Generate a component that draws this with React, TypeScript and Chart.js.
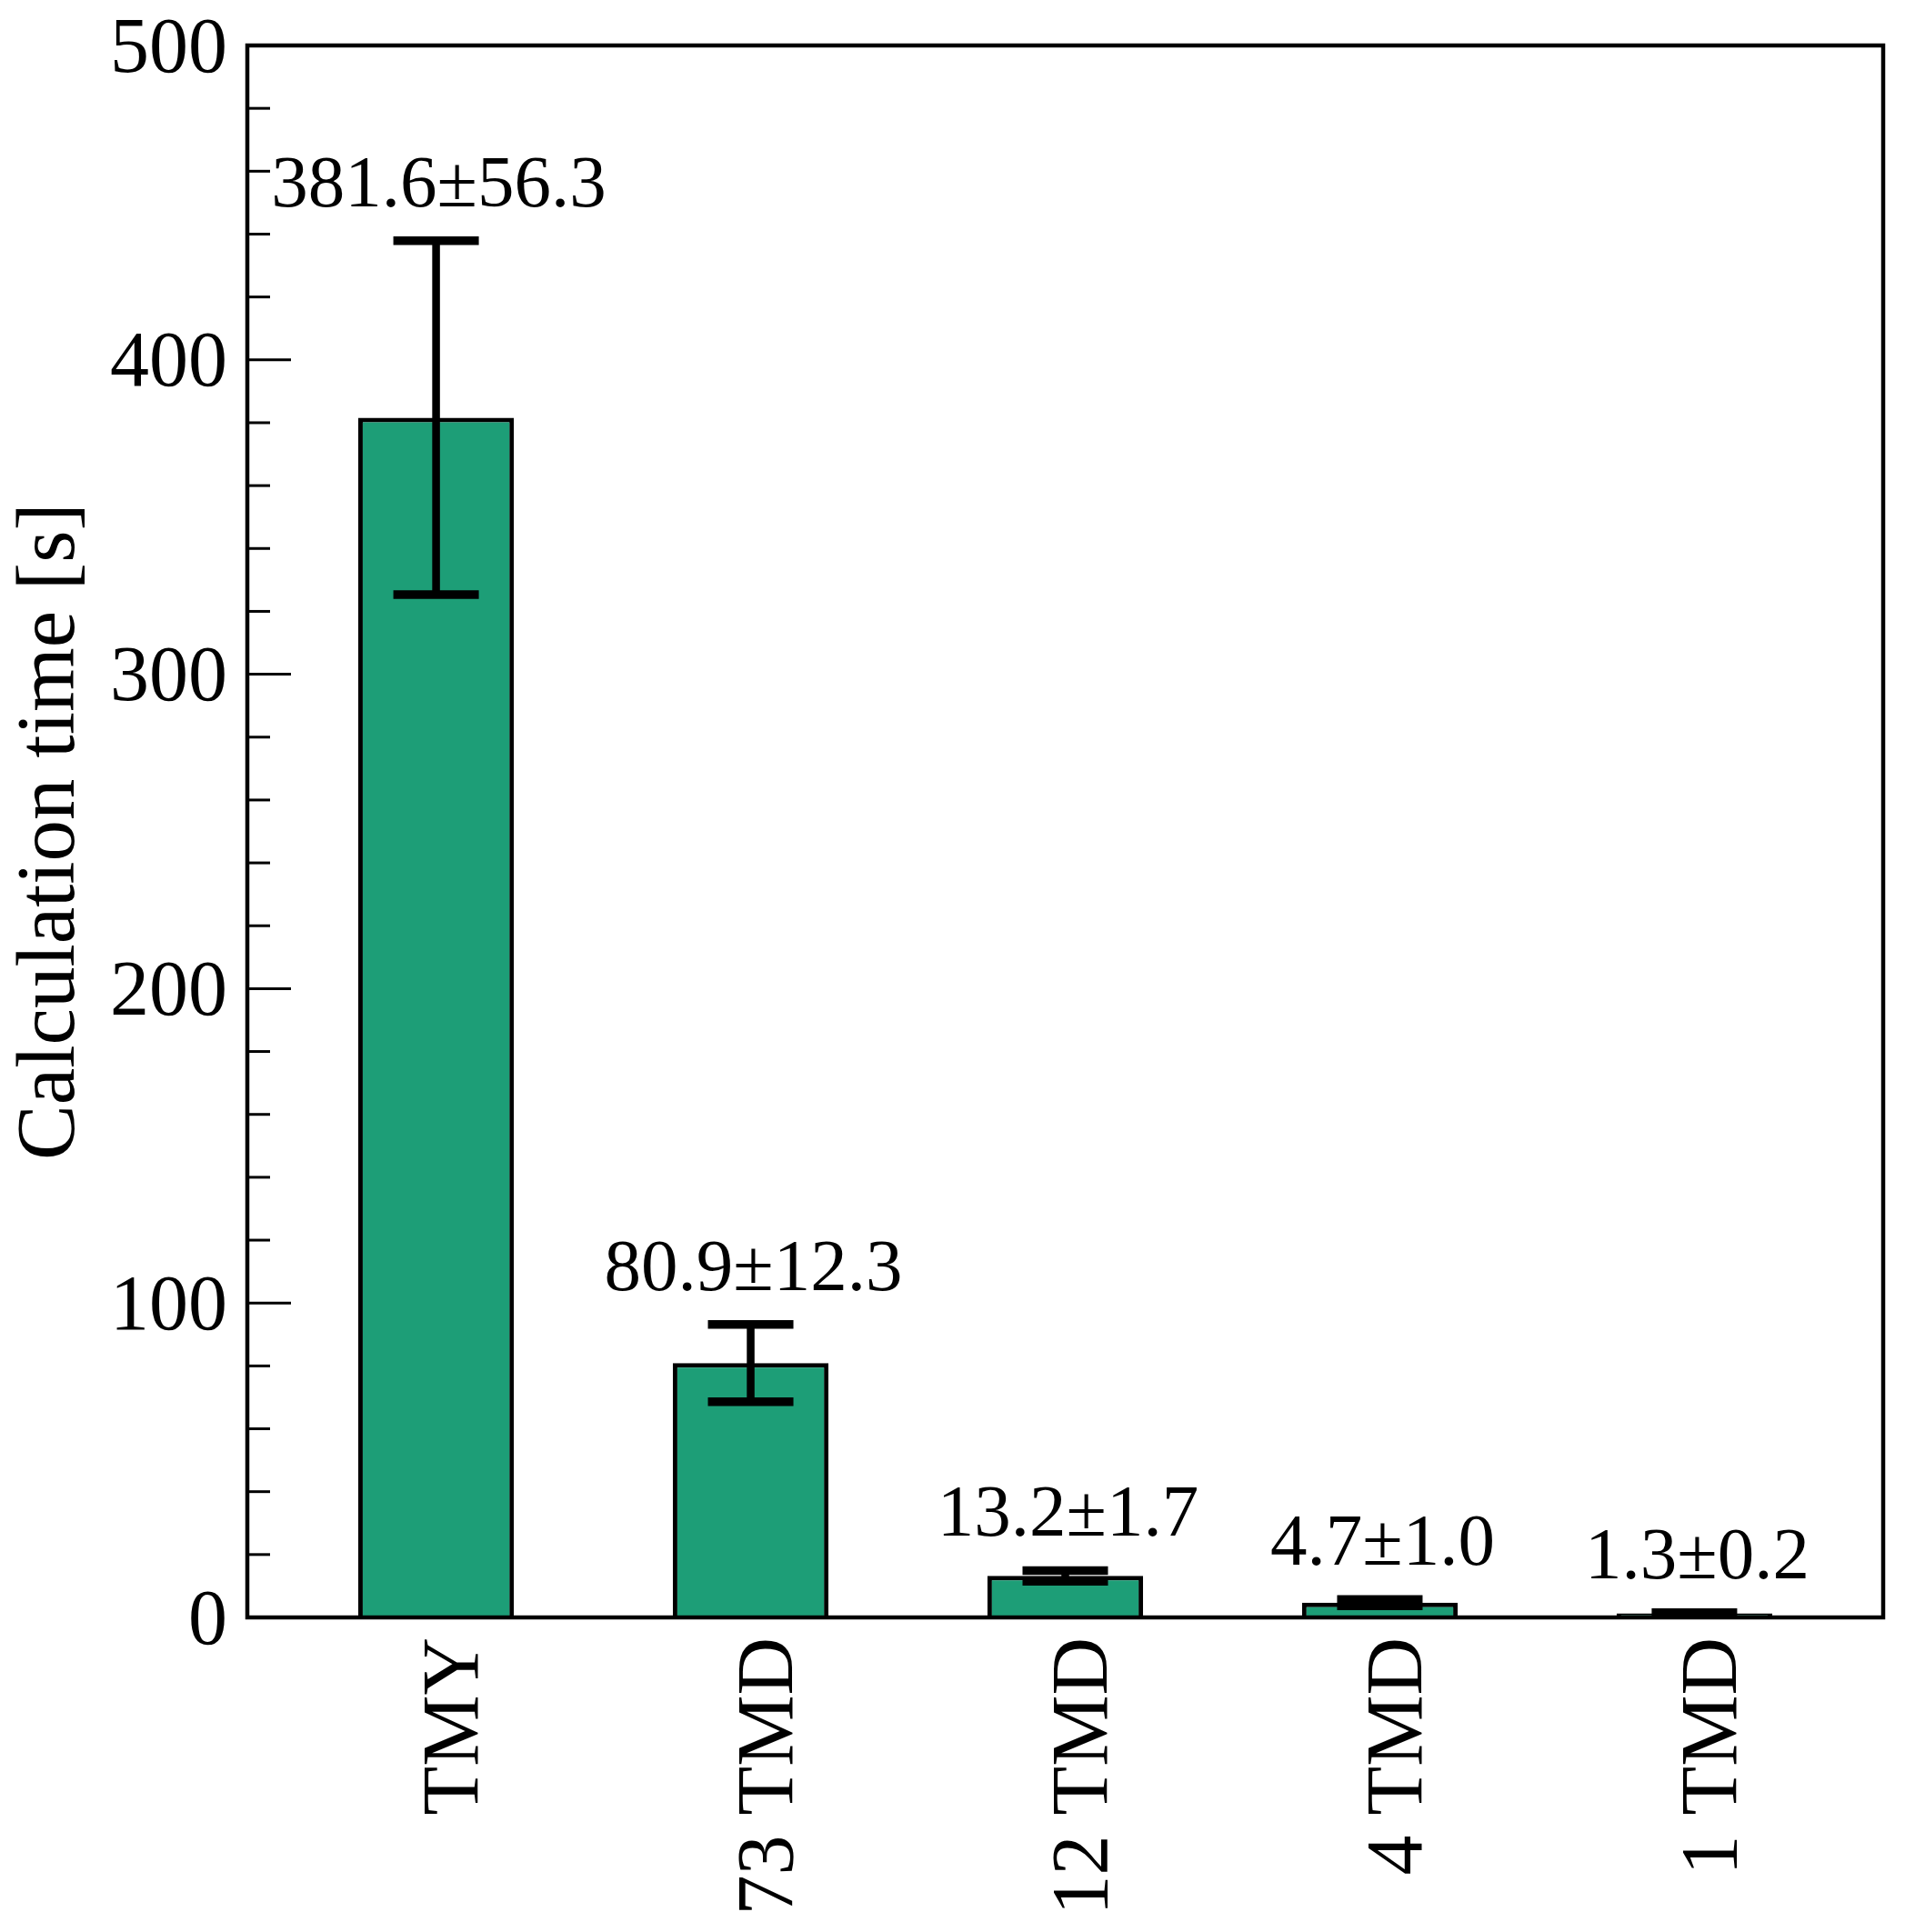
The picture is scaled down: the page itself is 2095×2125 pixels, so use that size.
import React, { useEffect, useRef } from "react";
import { Chart, registerables } from "chart.js";

Chart.register(...registerables);

const categories = ["TMY", "73 TMD", "12 TMD", "4 TMD", "1 TMD"];
const means = [381.6, 80.9, 13.2, 4.7, 1.3];
const errors = [56.3, 12.3, 1.7, 1.0, 0.2];
const yMajorTicks = [0, 100, 200, 300, 400, 500];
const yMinorStep = 20;

const FONT = "'Liberation Serif', 'Times New Roman', serif";

export default function App() {
  const ref = useRef<HTMLCanvasElement | null>(null);

  useEffect(() => {
    const canvas = ref.current;
    if (!canvas) return;

    const framePlugin = {
      id: "frameAndTicks",
      afterDatasetsDraw(chart: any) {
        const { ctx, chartArea } = chart;
        const y = chart.scales.y;
        ctx.save();
        ctx.strokeStyle = "#000";
        ctx.lineWidth = 3;
        for (let v = y.min; v <= y.max + 1e-9; v += yMinorStep) {
          const py = y.getPixelForValue(v);
          const major = yMajorTicks.includes(Math.round(v));
          const len = major ? 48 : 25;
          ctx.beginPath();
          ctx.moveTo(chartArea.left, py);
          ctx.lineTo(chartArea.left + len, py);
          ctx.stroke();
        }
        ctx.lineWidth = 4.5;
        ctx.strokeRect(
          chartArea.left,
          chartArea.top,
          chartArea.right - chartArea.left,
          chartArea.bottom - chartArea.top
        );
        ctx.restore();
      },
    };

    const errorPlugin = {
      id: "errorBars",
      afterDatasetsDraw(chart: any) {
        const { ctx } = chart;
        const xs = chart.scales.x;
        const ys = chart.scales.y;
        ctx.save();
        ctx.strokeStyle = "#000";
        ctx.fillStyle = "#000";
        ctx.lineCap = "butt";
        const capHalf = 47;
        means.forEach((m, i) => {
          const e = errors[i];
          const px = xs.getPixelForValue(i);
          const top = ys.getPixelForValue(m + e);
          const bot = ys.getPixelForValue(m - e);
          ctx.lineWidth = 8.5;
          ctx.beginPath();
          ctx.moveTo(px, top);
          ctx.lineTo(px, bot);
          ctx.stroke();
          ctx.lineWidth = 9.5;
          ctx.beginPath();
          ctx.moveTo(px - capHalf, top);
          ctx.lineTo(px + capHalf, top);
          ctx.moveTo(px - capHalf, bot);
          ctx.lineTo(px + capHalf, bot);
          ctx.stroke();
          ctx.font = `81px ${FONT}`;
          ctx.textAlign = "center";
          ctx.textBaseline = "alphabetic";
          ctx.fillText(`${m.toFixed(1)}±${e.toFixed(1)}`, px + 3, top - 38);
        });
        ctx.restore();
      },
    };

    const chart = new Chart(canvas, {
      type: "bar",
      data: {
        datasets: [
          {
            data: means.map((m, i) => ({ x: i, y: m })),
            backgroundColor: "#1d9e77",
            borderColor: "#000",
            borderWidth: 5,
            categoryPercentage: 1,
            barPercentage: 0.495,
          },
        ],
      },
      options: {
        animation: false,
        responsive: false,
        devicePixelRatio: 1,
        layout: { padding: { top: 50, right: 24, left: 0, bottom: 0 } },
        plugins: {
          legend: { display: false },
          tooltip: { enabled: false },
        },
        scales: {
          x: {
            type: "linear",
            min: -0.6,
            max: 4.6,
            offset: false,
            grid: { display: false, drawTicks: false },
            border: { display: false },
            afterBuildTicks: (scale: any) => {
              scale.ticks = categories.map((_, i) => ({ value: i }));
            },
            afterFit: (scale: any) => {
              scale.height = 346;
              scale.paddingLeft = 0;
              scale.paddingRight = 0;
            },
            ticks: {
              autoSkip: false,
              minRotation: 90,
              maxRotation: 90,
              padding: 22,
              labelOffset: 22,
              color: "#000",
              font: { family: FONT, size: 88 },
              callback: (v: any) => categories[Math.round(Number(v))] ?? "",
            },
          },
          y: {
            type: "linear",
            min: 0,
            max: 500,
            grid: { display: false, drawTicks: false },
            border: { display: false },
            afterBuildTicks: (scale: any) => {
              scale.ticks = yMajorTicks.map((v) => ({ value: v }));
            },
            afterFit: (scale: any) => {
              scale.width = 272;
              scale.paddingTop = 0;
              scale.paddingBottom = 0;
            },
            ticks: {
              padding: 22,
              labelOffset: 6,
              color: "#000",
              font: { family: FONT, size: 86 },
            },
            title: {
              display: true,
              text: "Calculation time [s]",
              color: "#000",
              padding: { top: 12, bottom: 0 },
              font: { family: FONT, size: 91, lineHeight: 1.0 },
            },
          },
        },
      },
      plugins: [framePlugin, errorPlugin],
    });

    return () => chart.destroy();
  }, []);

  return (
    <div style={{ position: "absolute", left: 0, top: 0, width: 2095, height: 2125, background: "#fff" }}>
      <canvas ref={ref} width={2095} height={2125} style={{ display: "block" }} />
    </div>
  );
}
